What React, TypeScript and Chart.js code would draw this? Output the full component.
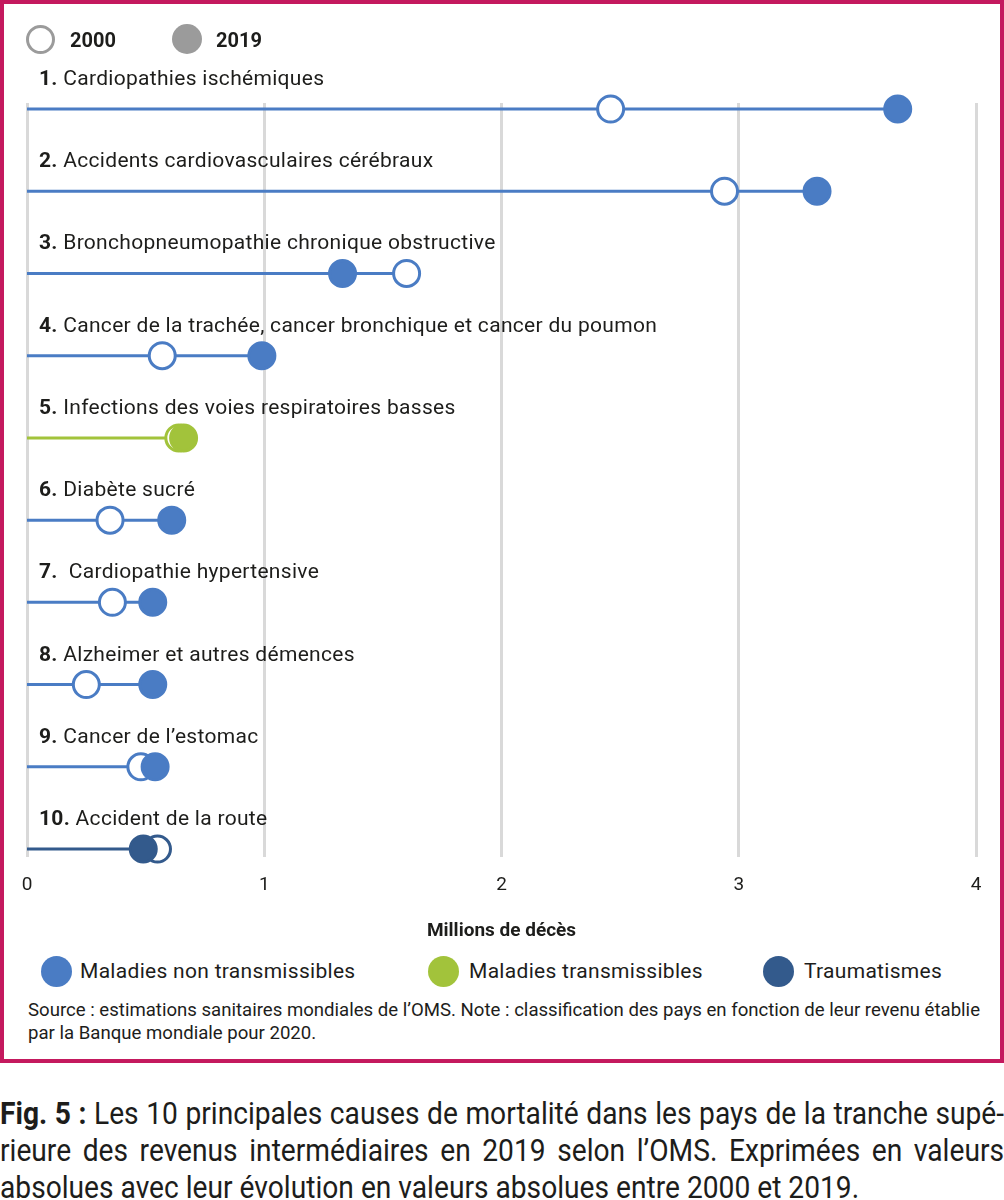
import React, { useEffect, useRef } from "react";
import { Chart, registerables } from "chart.js";

Chart.register(...registerables);

// ---- Data ----
const causeNumbers = ["1.", "2.", "3.", "4.", "5.", "6.", "7.", "8.", "9.", "10."];
const causeNames = [
  "Cardiopathies ischémiques",
  "Accidents cardiovasculaires cérébraux",
  "Bronchopneumopathie chronique obstructive",
  "Cancer de la trachée, cancer bronchique et cancer du poumon",
  "Infections des voies respiratoires basses",
  "Diabète sucré",
  " Cardiopathie hypertensive",
  "Alzheimer et autres démences",
  "Cancer de l’estomac",
  "Accident de la route",
];
const deaths2000 = [2.46, 2.94, 1.6, 0.57, 0.64, 0.35, 0.36, 0.25, 0.48, 0.55];
const deaths2019 = [3.67, 3.33, 1.33, 0.99, 0.66, 0.61, 0.53, 0.53, 0.54, 0.49];
const causeGroups = ["nt", "nt", "nt", "nt", "t", "nt", "nt", "nt", "nt", "inj"];
const groupKeys = ["nt", "t", "inj"];
const groupLabels = ["Maladies non transmissibles", "Maladies transmissibles", "Traumatismes"];
const groupColors = ["#4a7cc4", "#a2c33b", "#335a8c"];
const yearLabels = ["2000", "2019"];
const xTickValues = [0, 1, 2, 3, 4];
const xAxisTitle = "Millions de décès";
const sourceLines = [
  "Source : estimations sanitaires mondiales de l’OMS. Note : classification des pays en fonction de leur revenu établie",
  "par la Banque mondiale pour 2020.",
];
const captionBold = "Fig. 5 :";
const captionLines = [
  " Les 10 principales causes de mortalité dans les pays de la tranche supé-",
  "rieure des revenus intermédiaires en 2019 selon l’OMS. Exprimées en valeurs",
  "absolues avec leur évolution en valeurs absolues entre 2000 et 2019.",
];

const FONT = "Roboto, 'Noto Sans', sans-serif";
const TEXT = "#1d1d1b";
const LEGEND_GREY = "#9b9b9b";

const colorOf = (g: string) => groupColors[groupKeys.indexOf(g)];

const rowLabelPlugin = {
  id: "rowLabels",
  afterDatasetsDraw(chart: any) {
    const { ctx, scales } = chart;
    const x = scales.x;
    const y = scales.y;
    ctx.save();
    ctx.fillStyle = TEXT;
    ctx.textBaseline = "alphabetic";
    ctx.textAlign = "left";
    const prevSpacing = (ctx as any).letterSpacing;
    try {
      (ctx as any).letterSpacing = "0.3px";
    } catch (e) {}
    causeNames.forEach((name, i) => {
      const yy = y.getPixelForValue(i) - 24;
      const xx = x.getPixelForValue(0) + 12;
      ctx.font = `bold 21px ${FONT}`;
      ctx.fillText(causeNumbers[i], xx, yy);
      const w = ctx.measureText(causeNumbers[i]).width;
      ctx.font = `21px ${FONT}`;
      ctx.fillText(" " + name, xx + w, yy);
    });
    try {
      (ctx as any).letterSpacing = prevSpacing || "0px";
    } catch (e) {}
    ctx.restore();
  },
};

function DumbbellChart() {
  const ref = useRef<HTMLCanvasElement | null>(null);
  useEffect(() => {
    if (!ref.current) return;
    const lineDatasets = causeNames.map((_, i) => ({
      type: "scatter" as const,
      data: [
        { x: 0, y: i },
        { x: Math.max(deaths2000[i], deaths2019[i]), y: i },
      ],
      showLine: true,
      borderColor: colorOf(causeGroups[i]),
      borderWidth: 3,
      pointRadius: 0,
      pointHoverRadius: 0,
      clip: false,
      order: 3,
    }));
    const ds2000 = {
      type: "scatter" as const,
      label: yearLabels[0],
      data: deaths2000.map((v, i) => ({ x: v, y: i })),
      showLine: false,
      pointRadius: 13,
      pointHoverRadius: 13,
      pointBorderWidth: 3,
      pointBackgroundColor: "#ffffff",
      pointBorderColor: causeGroups.map(colorOf),
      clip: false,
      order: 2,
    };
    const ds2019 = {
      type: "scatter" as const,
      label: yearLabels[1],
      data: deaths2019.map((v, i) => ({ x: v, y: i })),
      showLine: false,
      pointRadius: 13,
      pointHoverRadius: 13,
      pointBorderWidth: 3,
      pointBackgroundColor: causeGroups.map(colorOf),
      pointBorderColor: causeGroups.map(colorOf),
      clip: false,
      order: 1,
    };
    const chart = new Chart(ref.current, {
      type: "scatter",
      data: { datasets: [ds2019, ds2000, ...lineDatasets] as any },
      options: {
        animation: false,
        responsive: false,
        devicePixelRatio: 1,
        layout: { autoPadding: false, padding: { top: 99, left: 23, right: 24, bottom: 0 } },
        plugins: { legend: { display: false }, tooltip: { enabled: false } },
        events: [],
        scales: {
          x: {
            type: "linear",
            min: 0,
            max: 4,
            afterBuildTicks: (axis: any) => {
              axis.ticks = xTickValues.map((v) => ({ value: v }));
            },
            afterFit: (axis: any) => {
              axis.height = 91;
              axis.paddingLeft = 0;
              axis.paddingRight = 0;
            },
            ticks: {
              color: TEXT,
              font: { size: 19, family: FONT },
              padding: 17,
            },
            grid: { color: "#d9d9d9", lineWidth: 3, drawTicks: false },
            border: { display: false },
            title: {
              display: true,
              text: xAxisTitle,
              color: TEXT,
              font: { size: 19, weight: "bold", family: FONT },
              padding: { top: 0, bottom: 5.5 },
            },
          },
          y: {
            type: "linear",
            reverse: true,
            min: -0.073,
            max: 9.097,
            display: false,
          },
        },
      } as any,
      plugins: [rowLabelPlugin],
    });
    return () => chart.destroy();
  }, []);
  return (
    <canvas
      ref={ref}
      width={996}
      height={944}
      style={{ position: "absolute", left: 0, top: 0, width: 996, height: 944 }}
    />
  );
}

export default function App() {
  useEffect(() => {
    document.body.style.margin = "0";
  }, []);
  const circle = (
    left: number,
    top: number,
    d: number,
    fill: string,
    border?: string
  ): React.CSSProperties => ({
    position: "absolute",
    left,
    top,
    width: d,
    height: d,
    borderRadius: "50%",
    boxSizing: "border-box",
    background: fill,
    border: border ? `3px solid ${border}` : "none",
  });
  const legendX = [36.5, 423.5, 758.5];
  const legendTextX = [76, 465, 800];
  const scale = 0.88;
  return (
    <div style={{ position: "relative", width: 1004, height: 1200, overflow: "hidden", fontFamily: FONT, color: TEXT }}>
      <div
        style={{
          position: "absolute",
          left: 0,
          top: 0,
          width: 1004,
          height: 1063,
          boxSizing: "border-box",
          border: "4px solid #c4195e",
        }}
      >
        <DumbbellChart />
        {/* top legend */}
        <div style={circle(22, 20.5, 29, "#ffffff", LEGEND_GREY)} />
        <div style={{ position: "absolute", left: 66, top: 24, fontSize: 20, lineHeight: "24px", fontWeight: 700 }}>
          {yearLabels[0]}
        </div>
        <div style={circle(168, 20, 30, LEGEND_GREY)} />
        <div style={{ position: "absolute", left: 212, top: 24, fontSize: 20, lineHeight: "24px", fontWeight: 700 }}>
          {yearLabels[1]}
        </div>
        {/* bottom legend */}
        {groupLabels.map((g, i) => (
          <React.Fragment key={g}>
            <div style={circle(legendX[i], 951.5, 31, groupColors[i])} />
            <div
              style={{
                position: "absolute",
                left: legendTextX[i],
                top: 955,
                fontSize: 21,
                letterSpacing: "0.3px",
                lineHeight: "25px",
                whiteSpace: "nowrap",
              }}
            >
              {g}
            </div>
          </React.Fragment>
        ))}
        {/* source */}
        <div
          style={{
            position: "absolute",
            left: 24,
            top: 995,
            fontSize: 18.6,
            lineHeight: "23px",
            whiteSpace: "nowrap",
          }}
        >
          {sourceLines.map((l) => (
            <div key={l}>{l}</div>
          ))}
        </div>
      </div>
      {/* caption */}
      <div
        style={{
          position: "absolute",
          left: 0,
          top: 1095,
          width: 1004 / scale,
          transform: `scaleX(${scale})`,
          transformOrigin: "0 0",
          fontSize: 32,
          lineHeight: "37px",
        }}
      >
        {captionLines.map((l, i) => (
          <div
            key={i}
            style={{
              textAlign: i < 2 ? "justify" : "left",
              textAlignLast: i < 2 ? "justify" : "left",
            }}
          >
            {i === 0 ? <b>{captionBold}</b> : null}
            {l}
          </div>
        ))}
      </div>
    </div>
  );
}
